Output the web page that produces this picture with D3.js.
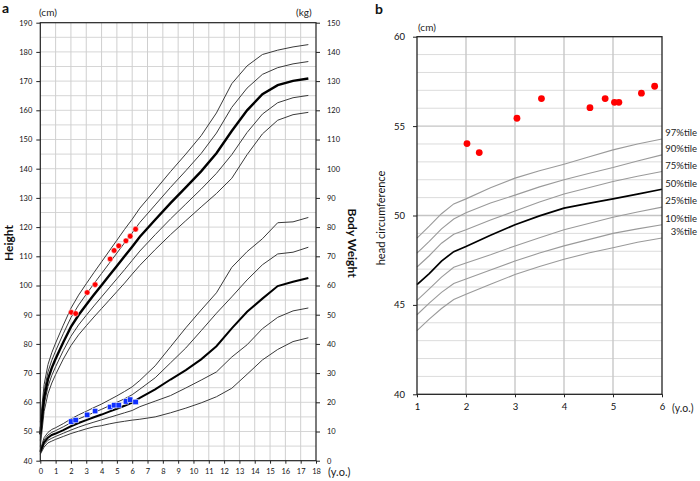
<!DOCTYPE html>
<html><head><meta charset="utf-8">
<script src="https://cdn.jsdelivr.net/npm/d3@7"></script>
<style>
html,body{margin:0;padding:0;background:#fff;}
svg{display:block;font-family:Lato,"Open Sans",sans-serif;}
</style></head><body>
<svg id="c" width="700" height="481"></svg>
<script>
// ---------- Panel a data ----------
const ageA = [0,0.25,0.5,0.75,1,1.5,2,2.5,3,3.5,4,4.5,5,5.5,6,6.5,7.5,8.5,9.5,10.5,11.5,12.5,13.5,14.5,15.5,16.5,17.5];
const heightP2 = [53.2,66.1,72.9,77.0,80.3,86.4,92.2,96.7,100.6,104.4,108.1,111.8,115.5,119.2,122.7,126.5,132.7,139.0,145.0,151.3,159.1,169.1,175.2,179.1,180.6,181.7,182.5];
const heightP1 = [51.1,63.8,70.4,74.4,77.6,83.5,89.0,93.3,97.0,100.6,104.1,107.6,111.1,114.6,118.0,121.6,127.6,133.6,139.3,145.2,152.2,161.0,167.6,172.3,174.6,175.9,176.7];
const heightMean = [49.0,61.5,67.9,71.8,74.9,80.6,85.8,89.9,93.4,96.8,100.1,103.4,106.7,110.0,113.3,116.7,122.5,128.2,133.6,139.1,145.3,152.9,160.0,165.5,168.6,170.1,170.9];
const heightM1 = [46.9,59.2,65.4,69.2,72.2,77.7,82.6,86.5,89.8,93.0,96.1,99.2,102.3,105.4,108.6,111.8,117.4,122.8,127.9,133.0,138.4,144.8,152.4,158.7,162.6,164.3,165.1];
const heightM2 = [44.8,56.9,62.9,66.6,69.5,74.8,79.4,83.1,86.2,89.2,92.1,95.0,97.9,100.8,103.9,106.9,112.3,117.4,122.2,126.9,131.5,136.7,144.8,151.9,156.6,158.5,159.3];

const weightP2 = [3.8,7.9,9.7,10.7,11.3,12.7,14.3,15.7,16.9,18.2,19.4,20.8,22.2,23.7,25.3,27.5,32.5,39.0,45.5,51.6,57.5,66.2,71.6,76.0,81.5,81.8,83.3];
const weightP1 = [3.4,7.1,8.8,9.7,10.3,11.6,13.0,14.3,15.4,16.5,17.6,18.8,20.0,21.2,22.6,24.5,28.4,33.5,38.6,44.5,50.5,56.1,61.9,67.1,70.8,71.4,73.1];
const weightMean = [3.0,6.3,7.9,8.8,9.3,10.5,11.8,12.9,13.9,14.9,15.8,16.8,17.8,18.8,19.9,21.5,24.4,27.8,31.0,34.7,39.2,45.3,51.0,55.5,59.8,61.3,62.6];
const weightM1 = [2.6,5.5,7.0,7.7,8.3,9.4,10.5,11.5,12.4,13.2,14.0,14.8,15.6,16.4,17.2,18.5,20.4,22.3,24.9,27.6,30.4,35.5,39.7,45.2,49.1,51.3,52.3];
const weightM2 = [2.2,4.7,6.1,6.7,7.3,8.3,9.3,10.1,10.9,11.6,12.0,12.6,13.1,13.5,13.9,14.2,15.0,16.4,18.0,19.8,21.9,24.8,29.6,34.5,38.1,40.8,42.1];

const visitAge = [2.02,2.31,3.06,3.58,4.56,4.82,5.12,5.59,5.87,6.22];
const visitHeight = [90.8,90.4,97.6,100.3,109.1,112.0,113.6,115.3,116.9,119.3];
const visitWeight = [13.4,13.9,15.7,17.0,18.4,19.0,19.0,20.3,20.9,20.1];

const heightTicks = [40,50,60,70,80,90,100,110,120,130,140,150,160,170,180,190];
const weightTicks = [0,10,20,30,40,50,60,70,80,90,100,110,120,130,140,150];
const ageTicksA = [0,1,2,3,4,5,6,7,8,9,10,11,12,13,14,15,16,17,18];

// ---------- Panel b data ----------
const ageB = [1,1.25,1.5,1.75,2,2.5,3,3.5,4,4.5,5,5.5,6];
const hc97 = [48.74,49.4,50.1,50.65,50.93,51.55,52.09,52.5,52.87,53.27,53.67,54.0,54.28];
const hc90 = [47.9,48.55,49.25,49.8,50.15,50.7,51.14,51.6,52.0,52.35,52.68,53.05,53.39];
const hc75 = [47.12,47.75,48.45,48.95,49.2,49.75,50.25,50.75,51.2,51.55,51.9,52.2,52.46];
const hc50 = [46.13,46.75,47.45,47.98,48.27,48.9,49.48,49.98,50.41,50.68,50.93,51.2,51.47];
const hc25 = [45.25,45.9,46.55,47.1,47.34,47.8,48.3,48.75,49.2,49.55,49.9,50.2,50.47];
const hc10 = [44.45,45.1,45.7,46.2,46.45,46.95,47.45,47.9,48.3,48.65,49.0,49.25,49.48];
const hc3  = [43.56,44.2,44.8,45.3,45.6,46.15,46.7,47.15,47.55,47.9,48.2,48.5,48.74];
const hcLabels = ["97%tile","90%tile","75%tile","50%tile","25%tile","10%tile","3%tile"];

const hcVisitAge = [2.02,2.27,3.04,3.54,4.53,4.84,5.03,5.12,5.58,5.85];
const hcVisitVal = [54.02,53.52,55.44,56.54,56.03,56.54,56.33,56.33,56.84,57.23];

const hcTicks = [40,45,50,55,60];
const ageTicksB = [1,2,3,4,5,6];

// ---------- Drawing ----------
const svg = d3.select("#c");
const fmt = d3.format("d");

// Panel a
const xA = d3.scaleLinear().domain([0,18]).range([40.3,316]);
const yA = d3.scaleLinear().domain([40,190]).range([460.7,22.7]);
const yW = d3.scaleLinear().domain([0,150]).range([460.7,22.7]);
const gA = svg.append("g");

gA.append("g").selectAll("line").data(d3.range(45,190,5)).join("line")
  .attr("x1",xA(0)).attr("x2",xA(18)).attr("y1",d=>yA(d)).attr("y2",d=>yA(d))
  .attr("stroke","#d6d6d6").attr("stroke-width",1);
gA.append("g").selectAll("line").data(ageTicksA.slice(1,-1)).join("line")
  .attr("x1",d=>xA(d)).attr("x2",d=>xA(d)).attr("y1",yA(40)).attr("y2",yA(190))
  .attr("stroke","#cfcfcf").attr("stroke-width",1);

const lineH = d3.line().x((d,i)=>xA(ageA[i])).y(d=>yA(d));
const lineW = d3.line().x((d,i)=>xA(ageA[i])).y(d=>yW(d));
[heightP2,heightP1,heightM1,heightM2].forEach(s=>{
  gA.append("path").attr("d",lineH(s)).attr("fill","none").attr("stroke","#3a3a3a").attr("stroke-width",1);
});
gA.append("path").attr("d",lineH(heightMean)).attr("fill","none").attr("stroke","#000").attr("stroke-width",2.4);
[weightP2,weightP1,weightM1,weightM2].forEach(s=>{
  gA.append("path").attr("d",lineW(s)).attr("fill","none").attr("stroke","#3a3a3a").attr("stroke-width",1);
});
gA.append("path").attr("d",lineW(weightMean)).attr("fill","none").attr("stroke","#000").attr("stroke-width",2);

gA.append("rect").attr("x",xA(0)).attr("y",yA(190)).attr("width",xA(18)-xA(0)).attr("height",yA(40)-yA(190))
  .attr("fill","none").attr("stroke","#222").attr("stroke-width",1.2);

function styleAxis(g,size){
  g.select(".domain").remove();
  g.selectAll(".tick line").attr("stroke","#222");
  g.selectAll(".tick text").attr("font-size",size).attr("fill","#111").attr("font-family","Lato, 'Open Sans', sans-serif");
}
gA.append("g").attr("transform",`translate(${xA(0)},0)`)
  .call(d3.axisLeft(yA).tickValues(heightTicks).tickFormat(fmt).tickSize(4).tickPadding(4))
  .call(g=>styleAxis(g,7.5));
gA.append("g").attr("transform",`translate(${xA(18)},0)`)
  .call(d3.axisRight(yW).tickValues(weightTicks).tickFormat(fmt).tickSize(4).tickPadding(7))
  .call(g=>styleAxis(g,7.5));
gA.append("g").attr("transform",`translate(0,${yA(40)})`)
  .call(d3.axisBottom(xA).tickValues(ageTicksA).tickFormat(fmt).tickSize(3).tickPadding(5))
  .call(g=>styleAxis(g,7.5));

gA.append("g").selectAll("rect").data(visitWeight).join("rect")
  .attr("x",(d,i)=>xA(visitAge[i])-2.7).attr("y",d=>yW(d)-2.7)
  .attr("width",5.4).attr("height",5.4).attr("fill","#1030ff").attr("stroke","#fff").attr("stroke-width",0.5);
gA.append("g").selectAll("circle").data(visitHeight).join("circle")
  .attr("cx",(d,i)=>xA(visitAge[i])).attr("cy",d=>yA(d)).attr("r",2.8)
  .attr("fill","#ff0000").attr("stroke","#fff").attr("stroke-width",0.5);

svg.append("text").attr("x",2).attr("y",13).attr("font-size",14).attr("font-weight","bold").attr("fill","#111").text("a");
svg.append("text").attr("x",39).attr("y",15.5).attr("font-size",10).attr("fill","#222").text("(cm)");
svg.append("text").attr("x",296).attr("y",15.5).attr("font-size",10).attr("fill","#222").text("(kg)");
svg.append("text").attr("x",328).attr("y",476).attr("font-size",11).attr("fill","#222").text("(y.o.)");
svg.append("text").attr("transform","translate(12.5,243) rotate(-90)").attr("text-anchor","middle")
  .attr("font-size",12).attr("font-weight","bold").attr("fill","#111").text("Height");
svg.append("text").attr("transform","translate(348,243) rotate(90)").attr("text-anchor","middle")
  .attr("font-size",12).attr("font-weight","bold").attr("fill","#111").text("Body Weight");

// Panel b
const xB = d3.scaleLinear().domain([1,6]).range([417,662]);
const yB = d3.scaleLinear().domain([40,60]).range([394.3,36.7]);
const gB = svg.append("g");

gB.append("g").selectAll("line").data(d3.range(41,60,1)).join("line")
  .attr("x1",xB(1)).attr("x2",xB(6)).attr("y1",d=>yB(d)).attr("y2",d=>yB(d))
  .attr("stroke",d=>d%5===0?"#c4c4c4":"#dcdcdc").attr("stroke-width",d=>d%5===0?1.4:1);
gB.append("g").selectAll("line").data(ageTicksB.slice(1,-1)).join("line")
  .attr("x1",d=>xB(d)).attr("x2",d=>xB(d)).attr("y1",yB(40)).attr("y2",yB(60))
  .attr("stroke","#c8c8c8").attr("stroke-width",1.4);

const lineB = d3.line().x((d,i)=>xB(ageB[i])).y(d=>yB(d));
const hcSeries = [hc97,hc90,hc75,hc50,hc25,hc10,hc3];
hcSeries.forEach((s,k)=>{
  gB.append("path").attr("d",lineB(s)).attr("fill","none")
    .attr("stroke",k===3?"#000":"#9a9a9a").attr("stroke-width",k===3?1.7:1.1);
});
gB.append("rect").attr("x",xB(1)).attr("y",yB(60)).attr("width",xB(6)-xB(1)).attr("height",yB(40)-yB(60))
  .attr("fill","none").attr("stroke","#222").attr("stroke-width",1.3);

gB.append("g").attr("transform",`translate(${xB(1)},0)`)
  .call(d3.axisLeft(yB).tickValues(hcTicks).tickFormat(fmt).tickSize(4).tickPadding(8))
  .call(g=>styleAxis(g,9.5));
gB.append("g").attr("transform",`translate(0,${yB(40)})`)
  .call(d3.axisBottom(xB).tickValues(ageTicksB).tickFormat(fmt).tickSize(3).tickPadding(6))
  .call(g=>styleAxis(g,9.5));

gB.append("g").selectAll("text").data(hcLabels).join("text")
  .attr("x",697).attr("y",(d,i)=>yB(hcSeries[i][hcSeries[i].length-1])-6)
  .attr("dy","0.35em").attr("text-anchor","end").attr("font-size",9.5).attr("fill","#222").text(d=>d);

gB.append("g").selectAll("circle").data(hcVisitVal).join("circle")
  .attr("cx",(d,i)=>xB(hcVisitAge[i])).attr("cy",d=>yB(d)).attr("r",3.4).attr("fill","#ff0000");

svg.append("text").attr("x",375).attr("y",14).attr("font-size",14).attr("font-weight","bold").attr("fill","#111").text("b");
svg.append("text").attr("x",418).attr("y",31).attr("font-size",10).attr("fill","#222").text("(cm)");
svg.append("text").attr("x",672).attr("y",412).attr("font-size",10.5).attr("fill","#222").text("(y.o.)");
svg.append("text").attr("transform","translate(385,218) rotate(-90)").attr("text-anchor","middle")
  .attr("font-size",11).attr("fill","#111").text("head circumference");
</script>
</body></html>
